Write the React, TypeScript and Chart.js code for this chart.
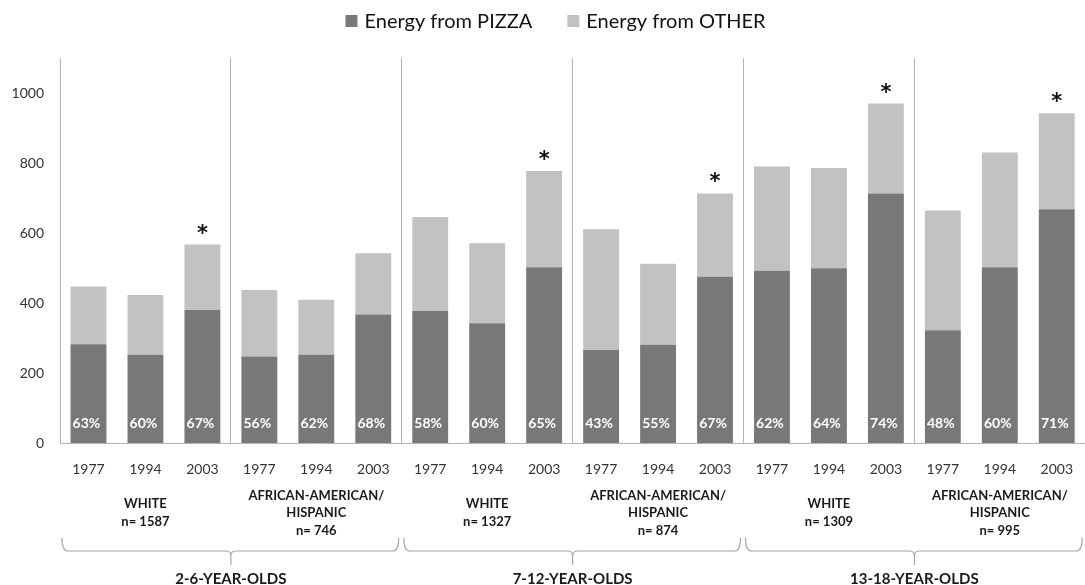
import React, { useEffect, useRef } from "react";
import { Chart, registerables } from "chart.js";

Chart.register(...registerables);

const years = ["1977", "1994", "2003", "1977", "1994", "2003", "1977", "1994", "2003", "1977", "1994", "2003", "1977", "1994", "2003", "1977", "1994", "2003"];
const pizzaEnergy = [282, 252, 380, 247, 252, 367, 377, 342, 502, 266, 281, 475, 492, 499, 713, 322, 502, 668];
const otherEnergy = [165, 171, 187, 190, 157, 175, 269, 229, 275, 345, 231, 238, 298, 287, 257, 342, 328, 274];
const pizzaShare = [63, 60, 67, 56, 62, 68, 58, 60, 65, 43, 55, 67, 62, 64, 74, 48, 60, 71];
const significant = [false, false, true, false, false, false, false, false, true, false, false, true, false, false, true, false, false, true];
const groupLabels = [
  ["WHITE", "n= 1587"],
  ["AFRICAN-AMERICAN/", "HISPANIC", "n= 746"],
  ["WHITE", "n= 1327"],
  ["AFRICAN-AMERICAN/", "HISPANIC", "n= 874"],
  ["WHITE", "n= 1309"],
  ["AFRICAN-AMERICAN/", "HISPANIC", "n= 995"],
];
const ageGroups = ["2-6-YEAR-OLDS", "7-12-YEAR-OLDS", "13-18-YEAR-OLDS"];
const seriesNames = ["Energy from PIZZA", "Energy from OTHER"];

const FONT = "Lato";
const PIZZA_COLOR = "#787878";
const OTHER_COLOR = "#c2c2c2";
const LINE_COLOR = "#b4b4b4";

const annotate = {
  id: "annotate",
  afterDatasetsDraw(chart: any) {
    const ctx = chart.ctx;
    const x = chart.scales.x;
    const y = chart.scales.y;
    ctx.save();
    ctx.textAlign = "center";
    // percent labels
    ctx.fillStyle = "#ffffff";
    ctx.font = `bold 14px ${FONT}`;
    ctx.textBaseline = "middle";
    pizzaShare.forEach((p, i) => {
      ctx.fillText(`${p}%`, x.getPixelForValue(i) - 2, y.getPixelForValue(0) - 20);
    });
    // asterisks
    ctx.fillStyle = "#111111";
    ctx.font = `bold 21px "DejaVu Sans"`;
    ctx.textBaseline = "alphabetic";
    significant.forEach((s, i) => {
      if (!s) return;
      const top = y.getPixelForValue(pizzaEnergy[i] + otherEnergy[i]);
      ctx.fillText("*", x.getPixelForValue(i), top - 5);
    });
    ctx.restore();
  },
  afterDraw(chart: any) {
    const ctx = chart.ctx;
    const x = chart.scales.x;
    const area = chart.chartArea;
    ctx.save();
    // legend
    ctx.font = `20px ${FONT}`;
    ctx.textBaseline = "middle";
    ctx.textAlign = "left";
    const box = 12;
    const gapText = 7;
    const gapItem = 35;
    const widths = chart.data.datasets.map((d: any) => box + gapText + ctx.measureText(d.label).width);
    const total = widths.reduce((a: number, b: number) => a + b, 0) + gapItem * (widths.length - 1);
    let lx = chart.width / 2 + 10 - total / 2;
    const ly = 21;
    chart.data.datasets.forEach((d: any, i: number) => {
      ctx.fillStyle = d.backgroundColor;
      ctx.fillRect(lx, ly - box / 2, box, box);
      ctx.fillStyle = "#111111";
      ctx.fillText(d.label, lx + box + gapText, ly + 1);
      lx += widths[i] + gapItem;
    });

    const bounds: number[] = [];
    for (let g = 0; g <= 6; g++) {
      if (g === 0) bounds.push(area.left);
      else if (g === 6) bounds.push(area.right);
      else bounds.push((x.getPixelForValue(g * 3 - 1) + x.getPixelForValue(g * 3)) / 2);
    }
    // group labels
    ctx.textAlign = "center";
    ctx.fillStyle = "#1a1a1a";
    ctx.font = `bold 13px ${FONT}`;
    groupLabels.forEach((lines, g) => {
      const cx = (x.getPixelForValue(g * 3) + x.getPixelForValue(g * 3 + 2)) / 2;
      lines.forEach((t, k) => {
        ctx.fillText(t, cx, 513 + (k - (lines.length - 1) / 2) * 17.5);
      });
    });
    // braces
    ctx.strokeStyle = "#a6a6a6";
    ctx.lineWidth = 1.2;
    const by = 551;
    ageGroups.forEach((label, a) => {
      const x0 = bounds[a * 2] + 2;
      const x1 = bounds[a * 2 + 2] - 3;
      const cx = bounds[a * 2 + 1];
      ctx.beginPath();
      ctx.moveTo(x0, by - 13);
      ctx.quadraticCurveTo(x0, by, x0 + 6, by);
      ctx.lineTo(cx - 5, by);
      ctx.quadraticCurveTo(cx, by, cx, by + 5);
      ctx.lineTo(cx, by + 14);
      ctx.moveTo(cx, by + 5);
      ctx.quadraticCurveTo(cx, by, cx + 5, by);
      ctx.lineTo(x1 - 6, by);
      ctx.quadraticCurveTo(x1, by, x1, by - 13);
      ctx.stroke();
      ctx.fillStyle = "#1a1a1a";
      ctx.font = `bold 15px ${FONT}`;
      ctx.fillText(label, cx, 579);
    });
    ctx.restore();
  },
};

export default function App() {
  const ref = useRef<HTMLCanvasElement | null>(null);
  useEffect(() => {
    if (!ref.current) return;
    const chart = new Chart(ref.current, {
      type: "bar",
      data: {
        labels: years,
        datasets: [
          { label: seriesNames[0], data: pizzaEnergy, backgroundColor: PIZZA_COLOR, borderWidth: 0 },
          { label: seriesNames[1], data: otherEnergy, backgroundColor: OTHER_COLOR, borderWidth: 0 },
        ],
      },
      options: {
        animation: false,
        responsive: false,
        devicePixelRatio: 1,
        layout: { padding: { top: 58, left: 0, right: 0, bottom: 0 } },
        datasets: { bar: { barPercentage: 1, categoryPercentage: 0.63 } },
        plugins: { legend: { display: false }, tooltip: { enabled: false } },
        scales: {
          x: {
            stacked: true,
            afterFit: (s: any) => { s.height = 142; },
            grid: {
              drawTicks: false,
              color: (c: any) => (c.index % 3 === 0 ? LINE_COLOR : "rgba(0,0,0,0)"),
              lineWidth: 1,
            },
            border: { color: LINE_COLOR, width: 1 },
            ticks: { color: "#333333", font: { family: FONT, size: 14 }, padding: 18, maxRotation: 0, autoSkip: false },
          },
          y: {
            stacked: true,
            min: 0,
            max: 1100,
            afterFit: (s: any) => { s.width = 60; },
            grid: { display: false },
            border: { color: LINE_COLOR, width: 1 },
            ticks: {
              stepSize: 200,
              includeBounds: false,
              color: "#333333",
              font: { family: FONT, size: 14 },
              padding: 8,
              callback: (v: any) => String(v),
            },
          },
        },
      },
      plugins: [annotate],
    });
    return () => chart.destroy();
  }, []);
  return (
    <div style={{ position: "fixed", left: 0, top: 0, width: 1085, height: 585, overflow: "hidden", background: "#ffffff" }}>
      <canvas ref={ref} width={1091} height={585} style={{ display: "block", width: 1091, height: 585 }} />
    </div>
  );
}
